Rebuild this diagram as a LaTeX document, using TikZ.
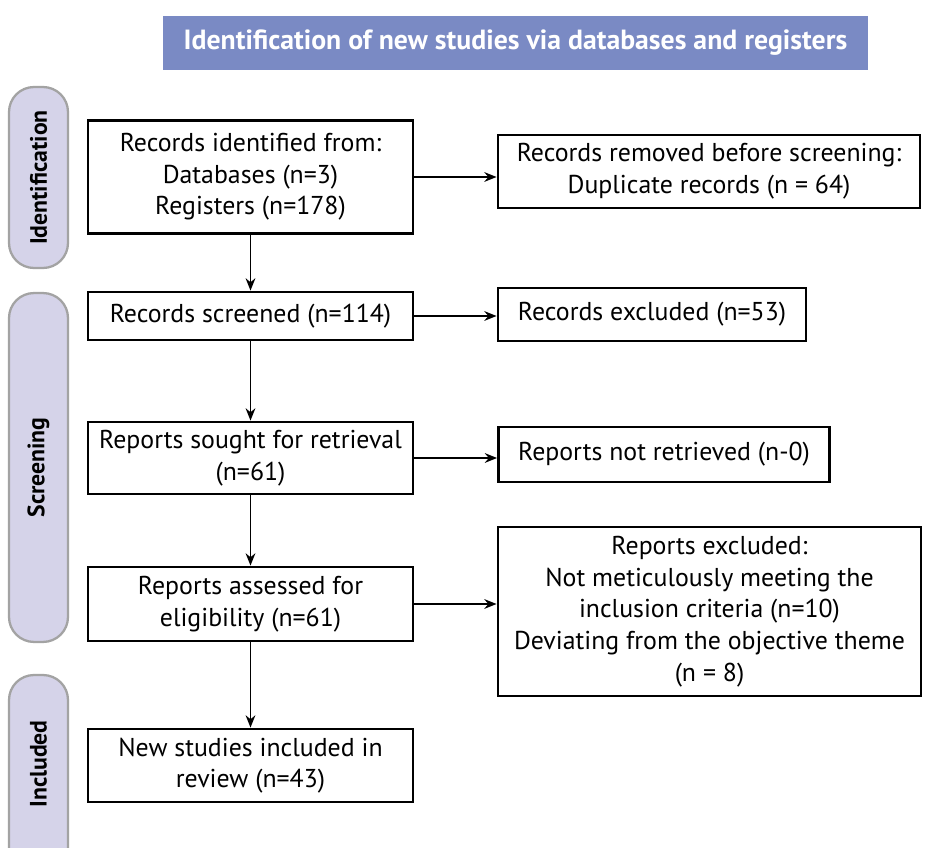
\documentclass[tikz,border=0pt]{standalone}
\usepackage{fontspec}
\setmainfont{PT Sans}
\usetikzlibrary{arrows.meta}
\definecolor{headblue}{HTML}{7A8AC4}
\definecolor{sidefill}{HTML}{D5D3E9}
\definecolor{sideline}{HTML}{A3A3A3}
\begin{document}
\begin{tikzpicture}[x=0.02cm,y=-0.02cm,
    box/.style={draw,line width=1.6pt,align=center,inner sep=0pt,font=\fontsize{14.7}{18}\selectfont},
    side/.style={draw=sideline,fill=sidefill,line width=1.3pt,rounded corners=0.5cm,rotate=90,%
      minimum height=1.18cm,inner sep=0pt,font=\fontsize{13.5}{16}\selectfont\bfseries},
    arr/.style={-{Stealth[length=7pt,width=5.5pt]},line width=1.1pt}]
  \useasboundingbox (0,0) rectangle (931,848);
  \clip (0,0) rectangle (931,848);
  \node[fill=headblue,text=white,minimum width=14.1cm,minimum height=1.08cm,%
    font=\fontsize{15.8}{18}\selectfont\bfseries] (head) at (515.5,43)
    {Identification of new studies via databases and registers};
  \node[side,minimum width=3.62cm] (ident) at (38.5,177.5) {Identification};
  \node[side,minimum width=6.98cm] (screen) at (38.5,467.5) {Screening};
  \node[side,minimum width=4cm] (incl) at (38.5,775) {};
  \node[rotate=90,font=\fontsize{13.5}{16}\selectfont\bfseries] (incltxt) at (38.5,764) {Included};
  \node[box,minimum width=6.5cm,minimum height=2.26cm] (ident1) at (250.5,177)
    {Records identified from:\\Databases (n=3)\\Registers (n=178)};
  \node[box,minimum width=8.44cm,minimum height=1.46cm] (removed) at (709,171.5)
    {Records removed before screening:\\Duplicate records (n = 64)};
  \node[box,minimum width=6.5cm,minimum height=0.96cm] (screened) at (250.5,316)
    {Records screened (n=114)};
  \node[box,minimum width=6.16cm,minimum height=1.06cm] (excl) at (652,314.5)
    {Records excluded (n=53)};
  \node[box,minimum width=6.5cm,minimum height=1.44cm] (sought) at (250.5,458)
    {Reports sought for retrieval\\(n=61)};
  \node[box,minimum width=6.62cm,minimum height=1.1cm] (notret) at (664,454.5)
    {Reports not retrieved (n-0)};
  \node[box,minimum width=6.5cm,minimum height=1.48cm] (assessed) at (250.5,604)
    {Reports assessed for\\eligibility (n=61)};
  \node[box,minimum width=8.46cm,minimum height=3.38cm] (repexcl) at (709.5,611.5)
    {Reports excluded:\\Not meticulously meeting the\\inclusion criteria (n=10)\\Deviating from the objective theme\\(n = 8)};
  \node[box,minimum width=6.5cm,minimum height=1.46cm] (included) at (250.5,765.5)
    {New studies included in\\review (n=43)};
  \draw[arr] (ident1) -- (screened);
  \draw[arr] (screened) -- (sought);
  \draw[arr] (sought) -- (assessed);
  \draw[arr] (assessed) -- (included);
  \draw[arr] (ident1.east) -- (ident1.east -| removed.west);
  \draw[arr] (screened.east) -- (screened.east -| excl.west);
  \draw[arr] (sought.east) -- (sought.east -| notret.west);
  \draw[arr] (assessed.east) -- (assessed.east -| repexcl.west);
\end{tikzpicture}
\end{document}
